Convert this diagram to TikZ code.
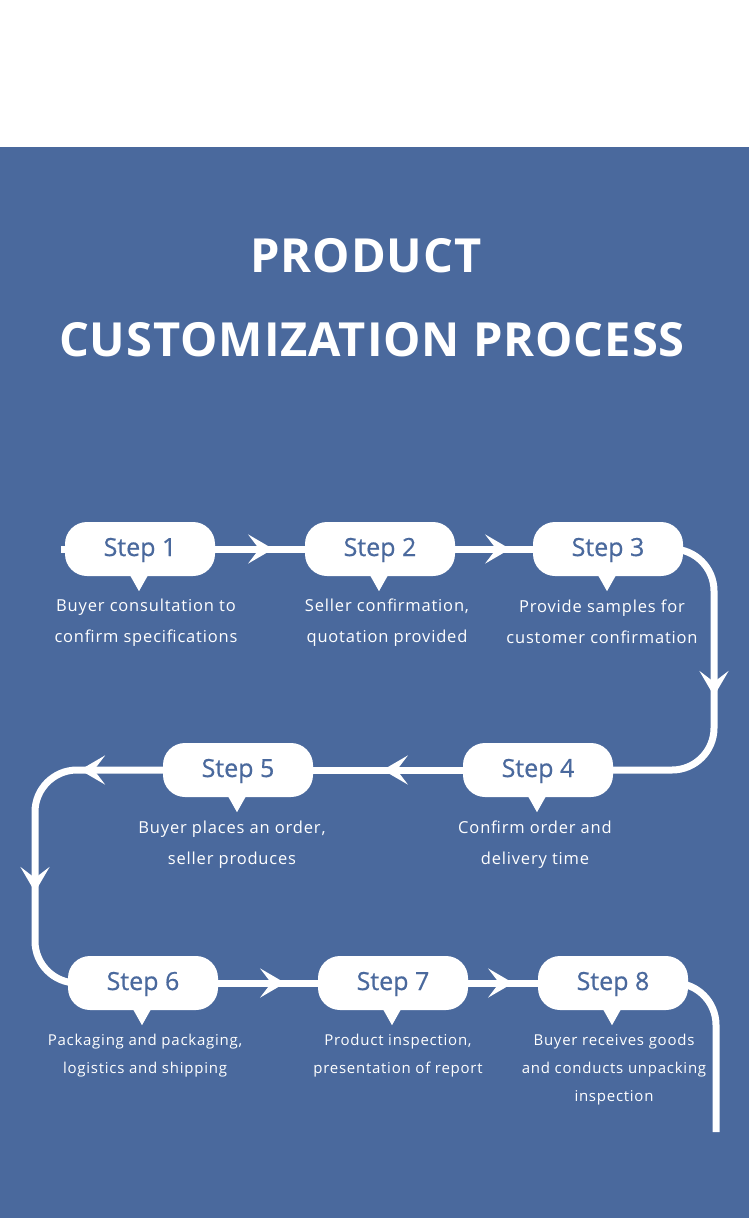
\documentclass[tikz,border=0pt]{standalone}
\usepackage{fontspec}
\setmainfont{Open Sans}
\newfontfamily\stepfont[FakeBold=0.6]{Open Sans}
\newfontfamily\descfont[LetterSpace=5]{Open Sans}
\newfontfamily\titlefont[LetterSpace=2]{Open Sans}
\usetikzlibrary{arrows.meta,decorations.markings}
\definecolor{bgblue}{HTML}{4A699D}
\pgfdeclarelayer{back}\pgfdeclarelayer{bg}\pgfsetlayers{back,bg,main}
\tikzset{
  bubble/.style={fill=white, rounded corners=22pt, minimum width=150pt, minimum height=54pt,
    text=bgblue, font=\stepfont\fontsize{25}{30}\selectfont, inner sep=0pt,
    text height=18pt, text depth=4pt},
  desc/.style={text=white, align=center, font=\descfont\fontsize{16.5}{31}\selectfont, inner sep=0pt},
  descs/.style={text=white, align=center, font=\descfont\fontsize{15}{28}\selectfont, inner sep=0pt},
  titletext/.style={text=white, font=\titlefont\fontsize{47}{56}\bfseries\selectfont, inner sep=0pt},
  conn/.style={draw=white, line width=7pt},
  tipat/.style={postaction={decorate, decoration={markings,
    mark=at position #1 with {\arrow{Stealth[length=25pt,width=29pt,inset=11pt]}}}}},
  pointer/.style={fill=white},
}
\begin{document}
\begin{tikzpicture}[x=1pt,y=-1pt]
\useasboundingbox (0,0) rectangle (749,1218);
\begin{pgfonlayer}{back}
\fill[white] (0,0) rectangle (749,147);
\fill[bgblue] (0,147) rectangle (749,1218);
\end{pgfonlayer}

\node[titletext] (t1) at (366,256) {PRODUCT};
\node[titletext] (t2) at (372,340) {CUSTOMIZATION PROCESS};

\node[bubble] (s1) at (140,549) {Step 1};
\node[bubble] (s2) at (380,549) {Step 2};
\node[bubble] (s3) at (608,549) {Step 3};
\node[bubble] (s4) at (538,770) {Step 4};
\node[bubble] (s5) at (238,770) {Step 5};
\node[bubble] (s6) at (143,983) {Step 6};
\node[bubble] (s7) at (393,983) {Step 7};
\node[bubble] (s8) at (613,983) {Step 8};

\foreach \n in {s1,s2,s3,s4,s5,s6,s7,s8}
  \fill[pointer] ([xshift=-1pt]\n.south) +(-9,-1) -- +(0,15) -- +(9,-1) -- cycle;

\node[desc] (d1) at (146,623) {Buyer consultation to\\confirm specifications};
\node[desc] (d2) at (387,623) {Seller confirmation,\\quotation provided};
\node[desc] (d3) at (602,622) {Provide samples for\\customer confirmation};
\node[desc] (d4) at (535,845) {Confirm order and\\delivery time};
\node[desc] (d5) at (232,845) {Buyer places an order,\\seller produces};
\node[descs] (d6) at (145,1056) {Packaging and packaging,\\logistics and shipping};
\node[descs] (d7) at (398,1056) {Product inspection,\\presentation of report};
\node[descs] (d8) at (614,1070) {Buyer receives goods\\and conducts unpacking\\inspection};

\coordinate (start) at (61,549);
\coordinate (c34) at (714,770);
\coordinate (c56) at (35,983);
\coordinate (finish) at (716,1132);

\begin{pgfonlayer}{bg}
\draw[conn] (start) -- (s1.center);
\draw[conn, tipat=58pt] (s1.east) -- (s2.west);
\draw[conn, tipat=55pt] (s2.east) -- (s3.west);
\draw[conn, rounded corners=42pt, tipat=235pt] (s3.center) -| (c34) -- (s4.center);
\draw[conn, tipat=80pt] (s4.west) -- (s5.east);
\draw[conn, rounded corners=42pt, tipat=158pt, tipat=307pt] (s5.center) -| (c56) -- (s6.center);
\draw[conn, tipat=67pt] (s6.east) -- (s7.west);
\draw[conn, tipat=45pt] (s7.east) -- (s8.west);
\draw[conn, rounded corners=42pt] (s8.center) -| (finish);
\end{pgfonlayer}
\end{tikzpicture}
\end{document}
